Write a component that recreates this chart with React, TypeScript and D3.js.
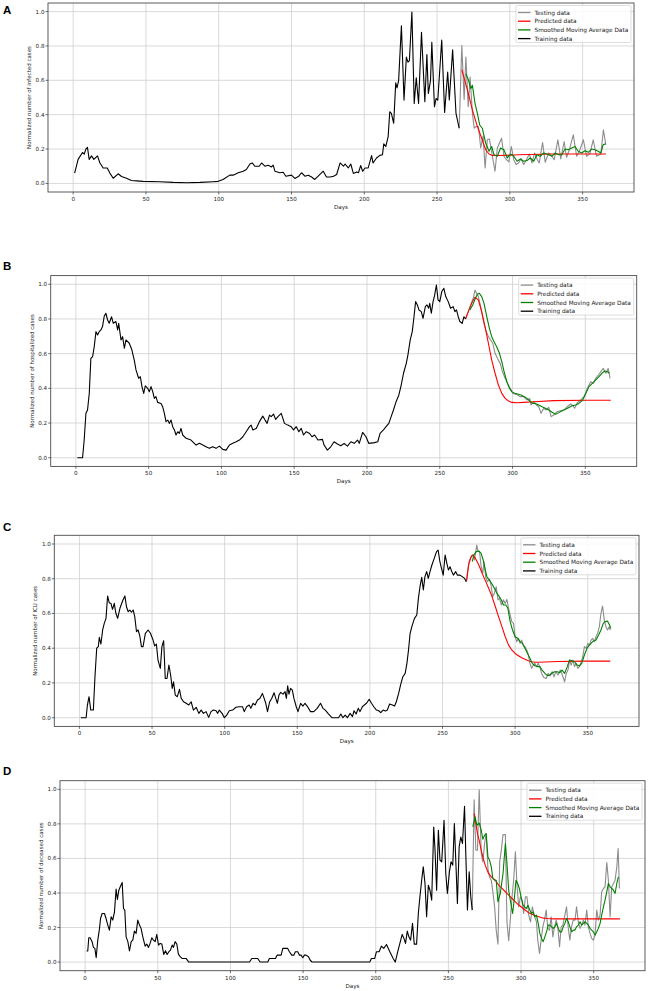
import React from "react";
import * as d3 from "d3";

type P = [number, number];

const xTicks = [0, 50, 100, 150, 200, 250, 300, 350];
const yTicks = [0, 0.2, 0.4, 0.6, 0.8, 1.0];
const legendLabels = ["Testing data", "Predicted data", "Smoothed Moving Average Data", "Training data"];
const panelLetters = ["A", "B", "C", "D"];
const yLabels = [
  "Normalized number of infected cases",
  "Normalized number of hospitalized cases",
  "Normalized number of ICU cases",
  "Normalized number of deceased cases",
];
const xLabel = "Days";

// ---------- Panel A ----------
const trainA: P[] = [[1,0.06],[3.4,0.14],[6.4,0.18],[7.6,0.17],[8.7,0.2],[9.8,0.21],[11,0.14],[12.6,0.16],[14.2,0.14],[16.7,0.16],[18.3,0.12],[20.6,0.09],[23.4,0.09],[25.2,0.06],[27.5,0.03],[30.9,0.056],[33.2,0.04],[36.6,0.03],[40,0.017],[43.5,0.015],[48,0.012],[59.5,0.01],[68.7,0.006],[77.9,0.004],[87,0.006],[96.2,0.01],[99.6,0.012],[103,0.023],[107.6,0.048],[109.9,0.048],[113.4,0.062],[116.8,0.071],[119,0.081],[121.4,0.113],[123,0.119],[124.8,0.1],[127.8,0.1],[129.4,0.119],[131.7,0.1],[134,0.106],[136.3,0.096],[137.4,0.106],[138.6,0.071],[142,0.062],[144.3,0.065],[146.1,0.042],[150,0.048],[152.3,0.029],[155,0.042],[156.9,0.062],[159.2,0.042],[161.5,0.048],[163.8,0.037],[166,0.023],[168.3,0.042],[171.8,0.071],[174,0.037],[176.6,0.037],[178.9,0.042],[181,0.052],[183.4,0.119],[185.7,0.1],[186.8,0.113],[189,0.09],[190.7,0.113],[192.5,0.058],[194.8,0.067],[196,0.062],[197.5,0.104],[198.9,0.071],[200.5,0.09],[202.7,0.09],[205,0.162],[206,0.119],[208.4,0.148],[210.7,0.163],[212.5,0.167],[213.4,0.231],[214.8,0.215],[216.4,0.273],[217.5,0.417],[218.6,0.408],[220.2,0.35],[221.6,0.585],[222.5,0.556],[223.6,0.6],[225.5,0.917],[227.3,0.485],[228.9,0.735],[230,0.706],[231,0.715],[232.7,0.998],[234.3,0.465],[235.7,0.615],[237.3,0.465],[239.3,0.879],[241.6,0.475],[243,0.75],[244,0.523],[245.5,0.6],[246.4,0.821],[248.2,0.446],[249.3,0.494],[250.5,0.485],[253.2,0.835],[255.2,0.413],[257.3,0.648],[258.4,0.485],[260.7,0.777],[263,0.408],[265.2,0.321]];
const testA: P[] = [[265.2,0.321],[267,0.802],[268.6,0.488],[269.8,0.735],[271.4,0.446],[272.7,0.619],[274.3,0.408],[275.5,0.321],[276.6,0.331],[278.4,0.331],[280,0.206],[281.6,0.277],[283,0.09],[284.5,0.254],[286,0.258],[288,0.158],[289.8,0.071],[291.4,0.206],[294.3,0.263],[296,0.158],[297.7,0.138],[299.3,0.125],[301,0.215],[302.7,0.138],[304.3,0.11],[306,0.119],[307.7,0.144],[309.5,0.11],[311.4,0.138],[313.4,0.171],[315.2,0.119],[317,0.177],[318.9,0.138],[320.2,0.119],[322.5,0.238],[324.3,0.123],[326.6,0.177],[328.9,0.158],[330.5,0.138],[333,0.254],[335,0.142],[337.3,0.244],[339,0.152],[340.9,0.196],[343.6,0.283],[345.9,0.158],[348.2,0.196],[350.5,0.254],[352.7,0.158],[355,0.173],[357.3,0.254],[359.5,0.158],[362.5,0.171],[364.3,0.312],[365.9,0.225]];
const predA: P[] = [[267,0.662],[271,0.54],[274.3,0.427],[277.7,0.331],[281,0.254],[283.4,0.196],[285.7,0.171],[288,0.163],[292.5,0.162],[306,0.167],[329,0.171],[366,0.171]];
const smoothA: P[] = [[269.8,0.638],[271.6,0.6],[273.2,0.552],[274.3,0.571],[276.1,0.465],[277.7,0.408],[279.3,0.34],[281.1,0.321],[283.4,0.235],[285.7,0.187],[287.5,0.215],[289.1,0.167],[291.4,0.158],[293.6,0.206],[295.9,0.196],[298.2,0.148],[300.5,0.171],[302.7,0.158],[305,0.129],[307.3,0.142],[309.5,0.129],[311.8,0.133],[314,0.148],[316.4,0.129],[318.6,0.167],[320.9,0.158],[323.2,0.177],[325.5,0.171],[328.9,0.158],[331.1,0.177],[333.4,0.167],[335.7,0.167],[337.9,0.2],[340.2,0.196],[342.5,0.206],[344.8,0.215],[347,0.187],[349.3,0.177],[351.6,0.19],[353.9,0.181],[356.1,0.2],[358.4,0.196],[360.7,0.187],[362.5,0.177],[364.1,0.225],[365.9,0.231]];

// ---------- Panel B ----------
const trainB: P[] = [[1,0],[4.6,0],[5.7,0.102],[6.9,0.256],[8,0.275],[9.2,0.371],[10.3,0.573],[11.5,0.583],[12.6,0.64],[13.8,0.727],[14.9,0.708],[16,0.727],[17.2,0.737],[18.3,0.756],[19.5,0.817],[20.6,0.833],[21.8,0.794],[22.9,0.775],[24.5,0.813],[25.7,0.775],[27.5,0.785],[28.7,0.737],[29.4,0.775],[31,0.679],[32.1,0.698],[33.3,0.631],[34.4,0.679],[36.7,0.66],[38.5,0.621],[40.1,0.563],[41.3,0.506],[43.1,0.458],[44.3,0.467],[45.4,0.41],[46.6,0.371],[47.7,0.415],[49.3,0.4],[50.5,0.381],[51.6,0.41],[52.8,0.381],[53.9,0.342],[55,0.352],[56.2,0.319],[58.5,0.313],[59.6,0.294],[60.8,0.256],[61.9,0.208],[63.1,0.217],[64.2,0.198],[65.4,0.217],[66.5,0.179],[67.7,0.16],[68.8,0.131],[70,0.15],[71.1,0.14],[72.2,0.169],[73.4,0.131],[75.7,0.112],[79.1,0.102],[82.6,0.073],[84.9,0.083],[87.2,0.073],[89.4,0.063],[91.7,0.054],[94,0.063],[96.3,0.054],[98.6,0.067],[100.9,0.048],[103.2,0.044],[105.5,0.073],[107.8,0.083],[110.1,0.092],[112.4,0.102],[114.7,0.121],[117,0.15],[119.3,0.179],[120.4,0.188],[121.6,0.16],[123.9,0.169],[126.1,0.208],[128.4,0.24],[130,0.217],[131.4,0.198],[133,0.246],[134.2,0.237],[135.8,0.252],[137.2,0.221],[138.8,0.237],[141.1,0.256],[142.2,0.227],[143.3,0.198],[145.6,0.188],[147.9,0.179],[149.5,0.16],[151.4,0.179],[153.2,0.15],[154.8,0.169],[156.4,0.131],[158.3,0.15],[160.6,0.14],[162.2,0.121],[164,0.131],[166.3,0.102],[169.4,0.106],[170.5,0.073],[172.8,0.044],[175.1,0.063],[177.4,0.092],[179.7,0.079],[182,0.069],[184.3,0.083],[186.6,0.067],[188.9,0.092],[191.2,0.083],[193.5,0.102],[194.7,0.083],[197,0.146],[199.3,0.121],[201.2,0.083],[205.1,0.087],[207.4,0.092],[209,0.14],[211.3,0.16],[213.1,0.179],[215,0.198],[216.6,0.237],[218.2,0.275],[220,0.323],[221.9,0.362],[223.5,0.419],[225.1,0.487],[227,0.544],[228.1,0.592],[229.7,0.679],[231.1,0.727],[232.3,0.813],[233.4,0.9],[234.6,0.881],[235.7,0.852],[237.3,0.842],[238.5,0.804],[240.1,0.871],[241.2,0.881],[242.4,0.862],[243.1,0.89],[244.2,0.833],[245.4,0.9],[246.5,0.938],[247.7,0.996],[248.8,0.91],[250,0.9],[251.4,0.958],[252.8,0.977],[254.1,0.929],[255.8,0.9],[257.4,0.862],[259.2,0.871],[260.4,0.842],[261.5,0.852],[262.7,0.813],[263.8,0.785],[265.4,0.775],[266.6,0.813],[267.7,0.8]];
const testB: P[] = [[267.7,0.8],[269.6,0.842],[271.2,0.881],[273,0.919],[274.2,0.967],[275.3,0.948],[276.5,0.929],[278.1,0.871],[280,0.785],[281.6,0.737],[283.4,0.698],[285,0.679],[286.4,0.66],[288,0.602],[289.6,0.573],[291.5,0.544],[293.1,0.496],[294.9,0.458],[296.5,0.429],[298.4,0.4],[300.2,0.371],[301.8,0.367],[303.5,0.362],[305.3,0.352],[307.6,0.352],[309.9,0.333],[311.8,0.342],[312.7,0.304],[314.5,0.323],[316.4,0.304],[318,0.294],[319.6,0.256],[321.4,0.285],[323,0.275],[324.9,0.29],[326.5,0.237],[328.3,0.246],[330.6,0.265],[332.9,0.271],[335.3,0.275],[337.6,0.294],[339.9,0.31],[341.5,0.3],[342.6,0.285],[344.5,0.317],[346.8,0.333],[349.1,0.352],[351.4,0.4],[353.7,0.438],[355.5,0.429],[357.1,0.458],[359,0.477],[360.6,0.496],[362.4,0.515],[364.1,0.487],[365.7,0.515],[367,0.458]];
const predB: P[] = [[267.7,0.8],[269.6,0.842],[271.9,0.89],[274.2,0.925],[276.5,0.91],[278.8,0.842],[281.1,0.756],[283.4,0.66],[285.7,0.563],[288,0.487],[290.3,0.419],[292.6,0.371],[294.9,0.342],[297.2,0.327],[299.5,0.319],[303,0.317],[307.6,0.319],[314.5,0.323],[328.3,0.329],[351.4,0.331],[367.5,0.331]];
const smoothB: P[] = [[270.7,0.852],[272.6,0.881],[274.2,0.913],[275.8,0.942],[277.2,0.948],[278.8,0.929],[280.4,0.89],[282.3,0.813],[284.1,0.746],[285.7,0.698],[287.3,0.669],[289.1,0.64],[291,0.602],[292.6,0.554],[294.2,0.496],[296.1,0.438],[297.9,0.4],[299.5,0.381],[301.4,0.371],[303.5,0.367],[305.8,0.362],[308.1,0.352],[309.9,0.342],[311.8,0.327],[313.8,0.313],[315.7,0.313],[318,0.304],[320.3,0.294],[322.6,0.285],[324.9,0.275],[327.2,0.262],[329.5,0.25],[331.8,0.26],[334.1,0.271],[336.4,0.279],[338.7,0.29],[341,0.3],[343.3,0.304],[345.6,0.313],[347.9,0.329],[350.2,0.367],[352.5,0.41],[354.8,0.429],[357.1,0.448],[359.4,0.467],[361.8,0.49],[363.4,0.5],[365.2,0.496],[366.6,0.487]];

// ---------- Panel C ----------
const trainC: P[] = [[1,0],[4.6,0],[5.5,0.073],[6.6,0.121],[7.8,0.044],[9.6,0.044],[10.7,0.236],[11.9,0.4],[13,0.409],[13.7,0.463],[14.8,0.424],[16,0.505],[17.1,0.543],[18.3,0.572],[19.4,0.701],[20.5,0.662],[21.7,0.658],[22.8,0.624],[24,0.658],[25.1,0.601],[26.3,0.572],[27.9,0.63],[29.7,0.672],[31.3,0.701],[32.4,0.639],[33.6,0.61],[34.7,0.62],[35.8,0.607],[37,0.62],[38.1,0.582],[39.3,0.495],[40.4,0.505],[41.6,0.47],[42.7,0.409],[43.8,0.409],[45.4,0.486],[47.3,0.505],[48.9,0.486],[50.7,0.447],[51.8,0.413],[53,0.424],[54.1,0.332],[55.7,0.284],[56.8,0.409],[58,0.443],[59.1,0.226],[60.3,0.226],[61.6,0.303],[62.8,0.246],[63.9,0.169],[64.8,0.207],[66,0.13],[67.4,0.121],[68.9,0.163],[70.1,0.111],[71.7,0.092],[73.5,0.083],[75.3,0.073],[76.9,0.092],[78.5,0.044],[80.4,0.06],[82.2,0.025],[83.8,0.044],[85.4,0.025],[87.2,0.035],[89,0.002],[90.6,0.035],[92.2,0.044],[94.1,0.04],[95.2,0.025],[96.3,0.044],[98.2,0.025],[99.8,0],[101.4,0.015],[103.2,0.04],[105.5,0.044],[107.8,0.06],[110,0.063],[112.3,0.063],[113.5,0.035],[115.1,0.063],[116.9,0.073],[118,0.054],[119.6,0.083],[121,0.073],[122.6,0.102],[124.2,0.111],[126,0.14],[127.2,0.111],[128.3,0.083],[129.5,0.035],[131,0.092],[132.4,0.111],[134,0.144],[135.2,0.111],[136.3,0.083],[137.4,0.131],[138.6,0.146],[140.2,0.136],[141.6,0.15],[142.5,0.111],[143.4,0.184],[144.3,0.136],[145.4,0.169],[146.6,0.159],[147.7,0.111],[149.3,0.063],[150.5,0.035],[152.3,0.083],[153.9,0.067],[155.3,0.083],[156.8,0.067],[159.1,0.035],[161.4,0.035],[163.7,0.054],[166,0.083],[167.7,0.054],[169.3,0.044],[171.6,0.021],[173.9,0],[176.1,0],[178.4,0],[180,0.021],[181.4,0],[183,0.015],[184.5,0],[186.4,0.025],[188,0.006],[189.1,0.04],[190.5,0.021],[192,0.054],[193.2,0.035],[194.8,0.063],[196.1,0.073],[197.7,0.083],[199.5,0.106],[201.1,0.083],[202.7,0.063],[204.5,0.044],[206.1,0.04],[207.5,0.029],[209.1,0.044],[210.7,0.038],[212,0.044],[213.6,0.079],[215.5,0.073],[217,0.067],[218.2,0.092],[219.8,0.14],[221.1,0.188],[222.7,0.236],[224.3,0.255],[225.5,0.313],[226.6,0.39],[227.7,0.486],[228.9,0.524],[230.7,0.572],[232.3,0.591],[233.4,0.687],[234.5,0.754],[235.7,0.808],[236.8,0.735],[237.9,0.812],[239.1,0.841],[240.2,0.802],[241.4,0.841],[242.7,0.879],[244.3,0.917],[245.9,0.956],[247,0.965],[248.2,0.898],[249.3,0.86],[250.5,0.821],[251.8,0.937],[253,0.889],[254.1,0.85],[255.2,0.869],[256.4,0.841],[257.5,0.821],[259.1,0.841],[260.2,0.821],[261.8,0.821],[263.6,0.812],[265.2,0.802],[266.4,0.783]];
const testC: P[] = [[266.4,0.783],[267.5,0.86],[268.6,0.908],[269.8,0.927],[270.9,0.937],[272,0.908],[272.7,0.946],[273.6,0.994],[274.5,0.956],[275.5,0.956],[276.6,0.869],[277.7,0.831],[278.6,0.898],[279.8,0.808],[280.9,0.783],[282.3,0.797],[283.4,0.764],[284.5,0.697],[285.7,0.716],[287,0.754],[288.2,0.678],[289.3,0.687],[290.5,0.649],[292,0.678],[293.2,0.658],[294.3,0.681],[295.5,0.63],[296.6,0.591],[297.7,0.553],[298.9,0.543],[300,0.466],[301.1,0.438],[302.3,0.457],[303.4,0.428],[304.5,0.447],[305.7,0.418],[306.8,0.409],[308,0.39],[309.1,0.361],[310.2,0.313],[311.4,0.284],[312.5,0.303],[313.6,0.313],[314.8,0.294],[315.9,0.313],[317,0.294],[318.2,0.255],[319.8,0.232],[321.4,0.226],[322.7,0.255],[324.1,0.24],[325.5,0.265],[326.8,0.236],[328,0.265],[329.5,0.246],[331.1,0.274],[332.5,0.246],[334.1,0.207],[335.2,0.255],[336.4,0.274],[337.5,0.332],[338.6,0.303],[339.8,0.332],[340.9,0.294],[342,0.313],[343.2,0.284],[344.3,0.294],[345.5,0.322],[346.6,0.351],[347.7,0.409],[348.9,0.399],[350,0.428],[351.1,0.418],[352.3,0.447],[353.4,0.457],[354.5,0.438],[355.7,0.466],[356.8,0.486],[358,0.524],[359.1,0.601],[360.2,0.643],[361.4,0.562],[362.5,0.524],[363.6,0.505],[364.8,0.524],[365.5,0.505]];
const predC: P[] = [[266.6,0.789],[268.2,0.889],[270,0.931],[271.1,0.937],[272.7,0.917],[275,0.879],[277.3,0.831],[279.5,0.789],[281.8,0.745],[284.1,0.697],[286.4,0.639],[288.6,0.582],[290.9,0.524],[293.2,0.466],[295.5,0.418],[297.7,0.39],[300,0.37],[302.3,0.357],[304.5,0.345],[306.8,0.336],[309.1,0.328],[311.4,0.322],[313.6,0.319],[315.9,0.319],[320.5,0.321],[329.5,0.324],[347.7,0.326],[365.5,0.326]];
const smoothC: P[] = [[270.5,0.898],[271.6,0.937],[273.2,0.956],[275,0.96],[276.6,0.946],[278,0.908],[279.5,0.85],[280.7,0.808],[282.3,0.793],[284.1,0.77],[285.7,0.745],[287.5,0.716],[289.1,0.697],[290.5,0.678],[292,0.649],[293.6,0.649],[295,0.63],[296.6,0.553],[298.2,0.505],[300,0.466],[301.8,0.457],[303.4,0.438],[305,0.428],[306.8,0.399],[308.6,0.37],[310.2,0.342],[311.8,0.313],[313.6,0.299],[315.5,0.294],[317,0.294],[318.6,0.274],[320.5,0.255],[322.3,0.242],[323.9,0.246],[325.7,0.259],[327.3,0.265],[329.1,0.265],[330.7,0.259],[332.3,0.274],[334.1,0.255],[335.9,0.294],[337.5,0.332],[339.1,0.328],[340.9,0.322],[342.7,0.303],[344.3,0.298],[345.9,0.313],[347.7,0.361],[349.5,0.399],[351.1,0.418],[353.4,0.438],[355.7,0.447],[357.5,0.476],[359.1,0.505],[360.7,0.543],[362,0.553],[363.6,0.557],[365,0.534],[365.9,0.514]];

// ---------- Panel D ----------
const trainD: P[] = [[1,0.064],[1.8,0.064],[2.5,0.141],[3.4,0.141],[4.8,0.118],[5.7,0.085],[6.7,0.079],[7.6,0.025],[8.7,0.127],[9.9,0.195],[10.6,0.252],[11.7,0.281],[13.3,0.281],[14.4,0.252],[15.6,0.214],[16.7,0.185],[17.9,0.262],[19,0.243],[20.2,0.291],[21.3,0.422],[22.2,0.362],[23.2,0.416],[24.1,0.435],[25.5,0.46],[26.4,0.31],[27.3,0.301],[28.2,0.146],[29.4,0.118],[30.5,0.064],[31.7,0.118],[32.8,0.127],[33.9,0.179],[35.1,0.166],[36.2,0.243],[37.4,0.214],[38.5,0.195],[39.7,0.146],[41.3,0.092],[42.4,0.104],[43.6,0.085],[44.7,0.108],[45.9,0.141],[47,0.127],[48.2,0.118],[49.3,0.16],[50.5,0.098],[51.6,0.108],[52.8,0.104],[54.1,0.044],[55.3,0.066],[56.4,0.044],[57.6,0.06],[58.7,0.069],[59.9,0.098],[60.8,0.085],[61.9,0.118],[63.1,0.104],[64.2,0.046],[65.4,0.031],[66.7,0.021],[69.5,0.021],[71.3,0],[113.1,0],[114.7,0.021],[118.8,0.021],[120.4,0],[125.7,0],[126.8,0.021],[131,0.021],[132.1,0.04],[134.9,0.04],[136,0.079],[139.4,0.079],[140.6,0.06],[142.2,0.04],[143.6,0.04],[144.7,0.06],[146.3,0.06],[147.5,0.04],[148.6,0.04],[149.8,0.025],[150.9,0.04],[152.1,0.04],[153.7,0.031],[154.8,0.012],[156.2,0],[195.9,0],[197,0.021],[199.3,0.021],[200.5,0.06],[202.3,0.06],[203.9,0.092],[205.5,0.079],[207.4,0.102],[209.7,0.06],[212,0.021],[213.4,0],[215.4,0.069],[216.6,0.108],[218.2,0.16],[219.4,0.137],[220.5,0.108],[221.7,0.179],[222.8,0.146],[224,0.127],[225.3,0.224],[226.5,0.104],[228.1,0.104],[229.3,0.281],[230.4,0.378],[231.6,0.474],[232.7,0.551],[233.9,0.455],[235,0.262],[236.2,0.445],[237.3,0.416],[238.5,0.358],[239.9,0.782],[240.8,0.647],[241.9,0.416],[243.1,0.763],[244.2,0.59],[245.4,0.58],[247,0.821],[248.2,0.513],[249.3,0.397],[250.7,0.522],[251.8,0.58],[253,0.561],[254.1,0.802],[255.3,0.541],[256.2,0.339],[257.4,0.667],[258.5,0.724],[259.7,0.686],[261.1,0.902],[262,0.618],[263.1,0.301],[264.3,0.522],[265.4,0.378],[266.4,0.301]];
const testD: P[] = [[266.4,0.301],[267.7,0.94],[268.9,0.647],[270,0.647],[271.2,0.998],[272.6,0.628],[273.7,0.58],[274.9,0.686],[276,0.744],[277.2,0.541],[278.3,0.493],[279.5,0.474],[280.6,0.407],[281.8,0.32],[282.9,0.185],[284.1,0.104],[285.3,0.58],[286.4,0.647],[287.6,0.738],[289.2,0.738],[290.3,0.233],[291.5,0.123],[292.6,0.243],[293.8,0.378],[294.9,0.474],[296.1,0.638],[297.2,0.445],[298.4,0.32],[299.5,0.378],[300.7,0.358],[301.8,0.281],[303,0.378],[304.1,0.378],[305.3,0.272],[306.5,0.233],[307.8,0.32],[309,0.272],[310.6,0.233],[311.5,0.127],[312.7,0.05],[313.8,0.127],[315,0.204],[316.1,0.243],[317.3,0.301],[318.4,0.195],[319.6,0.185],[320.7,0.262],[321.9,0.146],[323,0.204],[324.2,0.243],[325.3,0.204],[326.5,0.089],[327.6,0.204],[328.8,0.214],[329.9,0.262],[331.3,0.32],[332.4,0.204],[333.6,0.127],[334.7,0.204],[335.9,0.243],[337.1,0.243],[338.2,0.32],[339.4,0.233],[340.6,0.195],[341.7,0.214],[342.9,0.243],[344,0.214],[345.2,0.301],[346.3,0.204],[347.5,0.166],[348.6,0.137],[349.8,0.127],[350.9,0.156],[352.1,0.301],[353.2,0.243],[354.4,0.272],[355.5,0.407],[356.7,0.426],[357.8,0.435],[359,0.576],[360.1,0.474],[361.3,0.262],[362.4,0.435],[363.6,0.455],[364.7,0.474],[365.9,0.551],[366.8,0.657],[367.7,0.426]];
const predD: P[] = [[267.7,0.859],[268.9,0.802],[270,0.744],[271.2,0.705],[272.6,0.647],[273.7,0.609],[275.3,0.561],[277.6,0.513],[280,0.489],[282.3,0.474],[284.6,0.445],[286.9,0.426],[289.2,0.407],[291.5,0.387],[293.8,0.368],[296.1,0.349],[298.4,0.33],[300.7,0.316],[303,0.3],[305.3,0.285],[307.6,0.277],[309.9,0.268],[312.2,0.262],[314.5,0.256],[318,0.252],[322.6,0.25],[334.1,0.25],[368,0.25]];
const smoothD: P[] = [[266.8,0.782],[268.4,0.84],[269.6,0.792],[271.2,0.805],[272.6,0.763],[273.7,0.711],[274.9,0.734],[276,0.744],[277.2,0.609],[278.3,0.59],[279.5,0.551],[280.6,0.484],[281.8,0.474],[282.9,0.474],[284.1,0.349],[285.7,0.397],[287.6,0.513],[289.2,0.686],[290.3,0.57],[291.5,0.416],[292.6,0.358],[294.2,0.281],[295.4,0.368],[296.5,0.474],[297.7,0.455],[298.8,0.426],[300,0.378],[301.4,0.329],[302.5,0.32],[303.7,0.31],[304.8,0.329],[306,0.301],[307.1,0.281],[308.3,0.291],[309.4,0.262],[310.6,0.272],[311.8,0.224],[312.9,0.166],[314.1,0.137],[315.2,0.118],[316.4,0.146],[317.5,0.175],[318.7,0.214],[319.8,0.214],[321,0.204],[322.1,0.195],[323.3,0.204],[324.4,0.224],[325.6,0.195],[326.7,0.175],[327.9,0.175],[329,0.204],[330.2,0.224],[331.3,0.252],[332.5,0.233],[333.6,0.204],[334.8,0.175],[335.9,0.185],[337.1,0.185],[338.2,0.204],[339.4,0.214],[340.6,0.233],[341.7,0.214],[342.9,0.224],[344,0.233],[345.2,0.224],[346.3,0.214],[347.5,0.195],[348.6,0.185],[349.8,0.175],[350.9,0.156],[352.1,0.175],[353.2,0.195],[354.4,0.224],[355.5,0.272],[356.7,0.32],[357.8,0.358],[359,0.407],[360.1,0.455],[361.3,0.435],[362.4,0.426],[363.6,0.416],[364.7,0.397],[365.9,0.455],[367,0.493]];

const panelData = [
  { train: trainA, test: testA, pred: predA, smooth: smoothA },
  { train: trainB, test: testB, pred: predB, smooth: smoothB },
  { train: trainC, test: testC, pred: predC, smooth: smoothC },
  { train: trainD, test: testD, pred: predD, smooth: smoothD },
];

// layout (pixel boxes of each axes)
const boxes = [
  { left: 48, right: 634, top: 3, bottom: 192, letterY: 13.5 },
  { left: 50.7, right: 636.7, top: 275.6, bottom: 466.4, letterY: 269.5 },
  { left: 54.3, right: 639, top: 535.3, bottom: 726.4, letterY: 531 },
  { left: 60, right: 645, top: 780.7, bottom: 970.7, letterY: 774.5 },
];

const COLORS = { test: "#8c8c8c", pred: "#ff0000", smooth: "#008000", train: "#000000" };
const FONT = "DejaVu Sans, sans-serif";

function Panel({ i }: { i: number }) {
  const b = boxes[i];
  const d = panelData[i];
  const x = d3.scaleLinear().domain([-17.3, 385.3]).range([b.left, b.right]);
  const y = d3.scaleLinear().domain([-0.05, 1.05]).range([b.bottom, b.top]);
  const line = d3.line<P>().x((p) => x(p[0])).y((p) => y(p[1]));
  const series = [
    { key: "test", data: d.test, color: COLORS.test },
    { key: "pred", data: d.pred, color: COLORS.pred },
    { key: "smooth", data: d.smooth, color: COLORS.smooth },
    { key: "train", data: d.train, color: COLORS.train },
  ];
  const lgX = b.right - 118;
  const lgY = b.top + 2.5;
  const rowH = 8.7;
  const cx = (b.left + b.right) / 2;
  const cy = (b.top + b.bottom) / 2;
  return (
    <g>
      <text x={3} y={b.letterY} fontFamily="Liberation Sans, Arial, sans-serif" fontWeight="bold" fontSize={11.5} fill="#000">
        {panelLetters[i]}
      </text>
      {/* grid */}
      {xTicks.map((t) => (
        <line key={"gx" + t} x1={x(t)} x2={x(t)} y1={b.top} y2={b.bottom} stroke="#cfcfcf" strokeWidth={0.8} />
      ))}
      {yTicks.map((t) => (
        <line key={"gy" + t} x1={b.left} x2={b.right} y1={y(t)} y2={y(t)} stroke="#cfcfcf" strokeWidth={0.8} />
      ))}
      {/* lines */}
      {series.map((s) => (
        <path key={s.key} d={line(s.data) || ""} fill="none" stroke={s.color} strokeWidth={1.1} strokeLinejoin="round" />
      ))}
      {/* spines */}
      <rect x={b.left} y={b.top} width={b.right - b.left} height={b.bottom - b.top} fill="none" stroke="#4a4a4a" strokeWidth={0.9} />
      {/* ticks */}
      {xTicks.map((t) => (
        <g key={"tx" + t}>
          <line x1={x(t)} x2={x(t)} y1={b.bottom} y2={b.bottom + 2.5} stroke="#333" strokeWidth={0.7} />
          <text x={x(t)} y={b.bottom + 9} fontSize={5.6} fontFamily={FONT} textAnchor="middle" fill="#222">
            {String(t)}
          </text>
        </g>
      ))}
      {yTicks.map((t) => (
        <g key={"ty" + t}>
          <line x1={b.left - 2.5} x2={b.left} y1={y(t)} y2={y(t)} stroke="#333" strokeWidth={0.7} />
          <text x={b.left - 3.5} y={y(t) + 2} fontSize={5.6} fontFamily={FONT} textAnchor="end" fill="#222">
            {t.toFixed(1)}
          </text>
        </g>
      ))}
      <text x={cx} y={b.bottom + 17} fontSize={5.6} fontFamily={FONT} textAnchor="middle" fill="#222">
        {xLabel}
      </text>
      <text
        transform={`translate(${b.left - 17},${cy}) rotate(-90)`}
        fontSize={5.5}
        fontFamily={FONT}
        textAnchor="middle"
        fill="#222"
      >
        {yLabels[i]}
      </text>
      {/* legend */}
      <rect x={lgX} y={lgY} width={115} height={37} rx={1.5} fill="#ffffff" fillOpacity={0.85} stroke="#d0d0d0" strokeWidth={0.7} />
      {legendLabels.map((lab, k) => {
        const c = [COLORS.test, COLORS.pred, COLORS.smooth, COLORS.train][k];
        const ry = lgY + 7 + k * rowH;
        return (
          <g key={lab}>
            <line x1={lgX + 2} x2={lgX + 14.5} y1={ry} y2={ry} stroke={c} strokeWidth={1.3} />
            <text x={lgX + 18.5} y={ry + 2.1} fontSize={5.8} fontFamily={FONT} fill="#222">
              {lab}
            </text>
          </g>
        );
      })}
    </g>
  );
}

export default function App() {
  return (
    <svg
      width={648}
      height={991}
      viewBox="0 0 648 991"
      style={{ position: "absolute", left: 0, top: 0, background: "#fff" }}
    >
      <rect x={0} y={0} width={648} height={991} fill="#fff" />
      {[0, 1, 2, 3].map((i) => (
        <Panel key={i} i={i} />
      ))}
    </svg>
  );
}
